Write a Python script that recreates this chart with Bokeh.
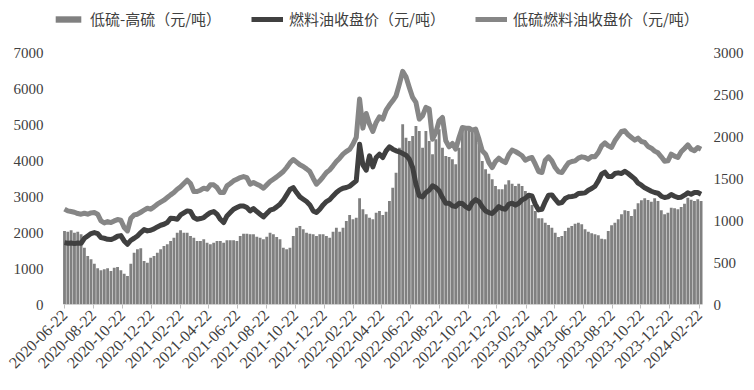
import numpy as np
import pandas as pd
from bokeh.plotting import figure
from bokeh.layouts import column
from bokeh.models import (Range1d, LinearAxis, FixedTicker, DatetimeTickFormatter,
                          Legend, LegendItem, ColumnDataSource)
from bokeh.embed import file_html
from bokeh.resources import INLINE

# ---------------- data (weekly readings from the chart) ----------------
start_date = "2020-06-22"

# 低硫燃料油收盘价（元/吨） - left axis
lsfo = [2650, 2600, 2582, 2563, 2526, 2508, 2535, 2508, 2545, 2554,
        2508, 2322, 2267, 2304, 2276, 2322, 2359, 2341, 2137, 2044,
        2396, 2489, 2508, 2563, 2619, 2674, 2647, 2711, 2786, 2841,
        2897, 2971, 3045, 3110, 3203, 3268, 3360, 3453, 3360, 3138,
        3138, 3175, 3231, 3203, 3323, 3323, 3249, 3110, 3110, 3296,
        3360, 3435, 3481, 3527, 3555, 3527, 3342, 3388, 3342, 3296,
        3231, 3323, 3416, 3481, 3546, 3620, 3694, 3805, 3935, 4028,
        3954, 3880, 3833, 3768, 3694, 3509, 3342, 3435, 3546, 3666,
        3740, 3852, 3972, 4065, 4176, 4250, 4306, 4454, 4640, 5706,
        4899, 5307, 5010, 4806, 5057, 5214, 5149, 5400, 5539, 5659,
        5798, 6123, 6475, 6327, 6030, 5752, 5613, 5149, 5242, 5474,
        5428, 4593, 4779, 5103, 5196, 4547, 4380, 4473, 4315, 4640,
        4918, 4899, 4899, 4844, 4871, 4593, 4269, 4176, 3944, 3805,
        3972, 4065, 3991, 3944, 4158, 4287, 4250, 4195, 4130, 4009,
        4056, 4083, 3898, 3694, 3666, 4009, 4102, 3991, 3805, 3685,
        3666, 3805, 3935, 3972, 3991, 4065, 4102, 4083, 4037, 4111,
        4102, 4222, 4408, 4491, 4408, 4362, 4547, 4677, 4806, 4825,
        4714, 4640, 4565, 4621, 4528, 4501, 4389, 4343, 4260, 4213,
        4102, 3981, 3991, 4176, 4121, 4083, 4241, 4334, 4436, 4315,
        4269, 4362, 4315]

# 燃料油收盘价（元/吨） - left axis
fo = [1720, 1701, 1710, 1692, 1710, 1701, 1840, 1905, 1970, 1998,
      1970, 1859, 1840, 1812, 1803, 1840, 1896, 1914, 1766, 1673,
      1784, 1840, 1905, 1998, 2081, 2044, 2063, 2100, 2155, 2202,
      2229, 2276, 2396, 2387, 2368, 2489, 2545, 2600, 2582, 2415,
      2368, 2387, 2415, 2489, 2554, 2582, 2508, 2368, 2276, 2461,
      2554, 2647, 2693, 2739, 2739, 2693, 2600, 2665, 2582, 2508,
      2433, 2526, 2619, 2647, 2711, 2786, 2897, 3045, 3194, 3249,
      3110, 2990, 2925, 2860, 2767, 2600, 2554, 2647, 2767, 2860,
      2915, 3017, 3110, 3184, 3231, 3249, 3286, 3360, 3435, 4454,
      3880, 3731, 4130, 3824, 4083, 4176, 4083, 4269, 4380, 4315,
      4269, 4241, 4195, 4148, 4037, 3805, 3342, 3017, 2990, 3110,
      3175, 3296, 3249, 3156, 2971, 2813, 2813, 2739, 2721, 2813,
      2804, 2721, 2665, 2832, 2915, 2860, 2711, 2600, 2554, 2526,
      2619, 2721, 2665, 2647, 2786, 2813, 2758, 2813, 2906, 2952,
      3036, 3017, 2786, 2628, 2647, 2860, 3036, 3045, 2925, 2813,
      2832, 2943, 2990, 2999, 3017, 3082, 3092, 3101, 3175, 3221,
      3286, 3435, 3620, 3676, 3555, 3555, 3638, 3657, 3638, 3703,
      3638, 3564, 3490, 3370, 3314, 3240, 3194, 3147, 3110, 3092,
      3008, 2971, 2990, 3054, 3008, 2971, 2980, 3036, 3101, 3064,
      3110, 3110, 3064]

# 低硫-高硫（元/吨） - right axis
spread = [875, 867, 883, 855, 867, 835, 677, 577, 538, 486,
          431, 407, 419, 431, 399, 438, 446, 407, 367, 339,
          486, 617, 657, 669, 518, 498, 558, 577, 617, 657,
          696, 716, 756, 796, 855, 883, 855, 855, 815, 796,
          756, 756, 776, 736, 716, 736, 756, 756, 736, 764,
          764, 764, 756, 815, 843, 843, 835, 835, 807, 796,
          776, 807, 855, 835, 804, 776, 677, 657, 677, 815,
          915, 934, 895, 855, 843, 835, 815, 835, 835, 815,
          796, 867, 915, 867, 915, 994, 1065, 1014, 1034, 1264,
          1133, 1073, 1034, 1014, 1093, 1113, 1065, 1105, 1232, 1391,
          1569, 1867, 2145, 1986, 1946, 2006, 2125, 2065, 1867, 2065,
          1946, 1788, 1966, 2085, 1867, 1768, 1756, 1728, 1669, 1867,
          2125, 2113, 2117, 2097, 2073, 1926, 1708, 1609, 1557, 1490,
          1411, 1371, 1371, 1430, 1478, 1438, 1411, 1438, 1411, 1351,
          1292, 1184, 1113, 1026, 1026, 974, 946, 915, 855, 804,
          815, 875, 915, 934, 962, 974, 954, 895, 867, 847,
          835, 823, 784, 776, 875, 942, 974, 1014, 1073, 1121,
          1113, 1054, 1133, 1204, 1240, 1264, 1244, 1224, 1264, 1232,
          1121, 1073, 1093, 1153, 1145, 1133, 1161, 1200, 1272, 1248,
          1232, 1252, 1232]

tick_labels = ["2020-06-22", "2020-08-22", "2020-10-22", "2020-12-22",
               "2021-02-22", "2021-04-22", "2021-06-22", "2021-08-22",
               "2021-10-22", "2021-12-22", "2022-02-22", "2022-04-22",
               "2022-06-22", "2022-08-22", "2022-10-22", "2022-12-22",
               "2023-02-22", "2023-04-22", "2023-06-22", "2023-08-22",
               "2023-10-22", "2023-12-22", "2024-02-22"]

series_names = ["低硫-高硫（元/吨）", "燃料油收盘价（元/吨）", "低硫燃料油收盘价（元/吨）"]

# ---------------- build ----------------
BAR = "#808080"
DARK = "#404040"
LIGHT = "#868686"
label_font = "Liberation Serif"
label_color = "#404040"

W = 754
LEG_H = 36
MAIN_H = 353
BL, BR = 52, 48          # frame spans x 52..706 so the legend strip fits too

dates = pd.date_range(start_date, periods=len(lsfo), freq="7D")
src = ColumnDataSource(dict(date=dates, lsfo=lsfo, fo=fo, spread=spread))

axis_start = pd.Timestamp("2020-06-22")
axis_end = pd.Timestamp("2024-02-29")
px_per_day = 638.0 / (axis_end - axis_start).days
x_start = axis_start - pd.Timedelta(days=12 / px_per_day)
x_end = axis_end + pd.Timedelta(days=4 / px_per_day)

p = figure(width=W, height=MAIN_H, x_axis_type="datetime",
           x_range=Range1d(x_start, x_end), y_range=Range1d(0, 7000),
           output_backend="svg", toolbar_location=None,
           min_border_left=BL, min_border_right=BR, min_border_top=52 - LEG_H,
           min_border_bottom=85)
p.extra_y_ranges = {"right": Range1d(0, 3000)}

p.outline_line_color = None
p.grid.visible = False

bar_w = 6 * 24 * 3600 * 1000
r_bar = p.vbar(x="date", top="spread", width=bar_w, source=src, y_range_name="right",
               fill_color=BAR, line_color=None)
# category axis base line (only under the data span)
p.segment(x0=[axis_start], y0=[0], x1=[axis_end], y1=[0], line_color="#bfbfbf", line_width=1)
r_fo = p.line(x="date", y="fo", source=src, line_color=DARK, line_width=5,
              line_join="round")
r_ls = p.line(x="date", y="lsfo", source=src, line_color=LIGHT, line_width=5,
              line_join="round")

# x axis
xa = p.xaxis[0]
tick_ms = [pd.Timestamp(t).value // 10**6 for t in tick_labels]
xa.ticker = FixedTicker(ticks=tick_ms)
xa.formatter = DatetimeTickFormatter(days="%Y-%m-%d", months="%Y-%m-%d", years="%Y-%m-%d",
                                     hours="%Y-%m-%d", minutes="%Y-%m-%d")
xa.major_label_orientation = np.pi / 4
xa.axis_line_color = None
xa.major_tick_line_color = "#bfbfbf"
xa.major_tick_in = 0
xa.major_tick_out = 4
xa.minor_tick_line_color = None
xa.major_label_text_font = label_font
xa.major_label_text_font_size = "16px"
xa.major_label_text_color = label_color
xa.major_label_standoff = 4

# left y axis
ya = p.yaxis[0]
ya.ticker = FixedTicker(ticks=list(range(0, 7001, 1000)))
ya.axis_line_color = None
ya.major_tick_line_color = None
ya.minor_tick_line_color = None
ya.major_tick_out = 0
ya.major_tick_in = 0
ya.major_label_standoff = 9
ya.major_label_text_font = label_font
ya.major_label_text_font_size = "15px"
ya.major_label_text_color = label_color

# right y axis
ra = LinearAxis(y_range_name="right", ticker=FixedTicker(ticks=list(range(0, 3001, 500))))
ra.axis_line_color = None
ra.major_tick_line_color = None
ra.minor_tick_line_color = None
ra.major_tick_out = 0
ra.major_tick_in = 0
ra.major_label_standoff = 7
ra.major_label_text_font = label_font
ra.major_label_text_font_size = "15px"
ra.major_label_text_color = label_color
p.add_layout(ra, "right")

# ---------------- legend strip (separate small figure) ----------------
lf = figure(width=W, height=LEG_H, x_range=Range1d(0, 1), y_range=Range1d(0, 1),
            output_backend="svg", toolbar_location=None,
            min_border=0, min_border_left=BL, min_border_right=BR,
            min_border_top=0, min_border_bottom=0)
lf.axis.visible = False
lf.grid.visible = False
lf.outline_line_color = None
nan = float("nan")
d_bar = lf.vbar(x=[nan], top=[nan], width=0.1, fill_color=BAR, line_color=None)
d_fo = lf.line(x=[nan, nan], y=[nan, nan], line_color=DARK, line_width=5)
d_ls = lf.line(x=[nan, nan], y=[nan, nan], line_color=LIGHT, line_width=5)

legend = Legend(items=[LegendItem(label=series_names[0], renderers=[d_bar]),
                       LegendItem(label=series_names[1], renderers=[d_fo]),
                       LegendItem(label=series_names[2], renderers=[d_ls])],
                orientation="horizontal", location=(0, 7),
                label_text_font="Noto Sans CJK SC", label_text_font_size="15px",
                label_text_color=label_color, glyph_width=32, glyph_height=8,
                label_standoff=6, spacing=30, padding=0, margin=0,
                border_line_color=None, background_fill_alpha=0,
                label_height=18)
lf.add_layout(legend, "center")

layout = column(lf, p, spacing=0)
open("out.html", "w").write(file_html(layout, INLINE))
